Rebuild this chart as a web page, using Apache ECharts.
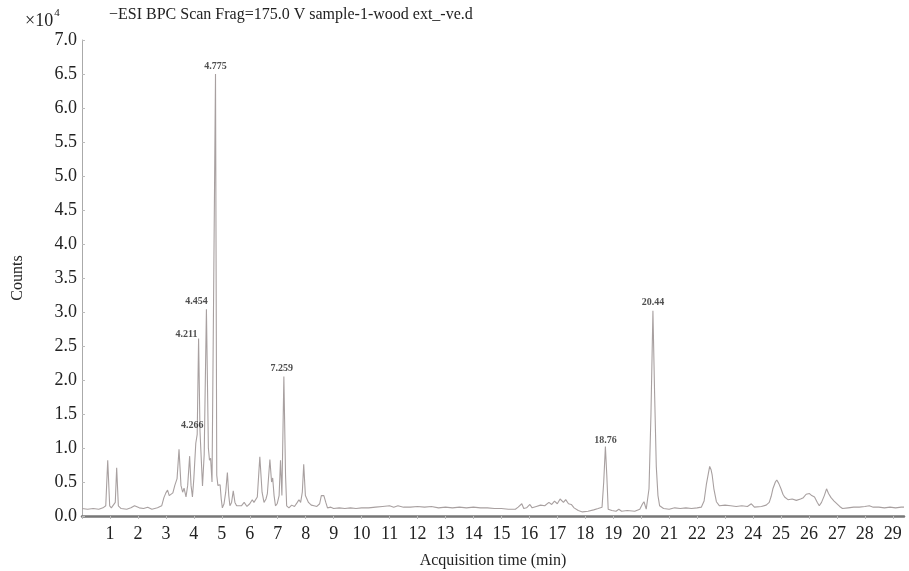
<!DOCTYPE html>
<html>
<head>
<meta charset="utf-8">
<script src="https://cdn.jsdelivr.net/npm/echarts@6/dist/echarts.min.js"></script>
<style>html,body{margin:0;padding:0;background:#fff}#c{width:909px;height:571px}</style>
</head>
<body>
<div id="c"></div>
<script>
// Retention time (min)
const times = [0.0,0.2,0.4,0.6,0.75,0.85,0.92,0.99,1.05,1.12,1.19,1.24,1.30,1.40,1.6,1.75,1.88,1.95,2.05,2.2,2.35,2.5,2.7,2.85,2.93,3.0,3.06,3.12,3.18,3.25,3.32,3.40,3.47,3.54,3.60,3.65,3.72,3.78,3.85,3.90,3.95,4.00,4.07,4.12,4.17,4.22,4.27,4.31,4.37,4.45,4.52,4.56,4.60,4.65,4.70,4.775,4.82,4.86,4.90,4.94,4.98,5.02,5.08,5.14,5.2,5.25,5.29,5.35,5.41,5.47,5.53,5.6,5.7,5.8,5.9,6.0,6.09,6.15,6.22,6.27,6.36,6.44,6.51,6.58,6.63,6.72,6.78,6.82,6.87,6.92,6.98,7.05,7.1,7.15,7.22,7.28,7.32,7.4,7.5,7.6,7.7,7.76,7.82,7.88,7.93,7.99,8.05,8.1,8.2,8.3,8.4,8.5,8.56,8.6,8.65,8.72,8.78,8.9,9.0,9.2,9.4,9.6,9.8,10.0,10.25,10.5,10.75,11.0,11.15,11.3,11.5,11.75,12.0,12.25,12.5,12.75,13.0,13.25,13.5,13.75,14.0,14.25,14.5,14.75,15.0,15.25,15.5,15.6,15.73,15.8,15.9,16.02,16.1,16.25,16.4,16.55,16.7,16.8,16.9,17.0,17.1,17.15,17.22,17.3,17.4,17.5,17.6,17.75,17.9,18.1,18.3,18.46,18.6,18.66,18.72,18.77,18.82,18.95,19.1,19.2,19.3,19.5,19.77,19.95,20.05,20.1,20.18,20.28,20.35,20.42,20.48,20.54,20.6,20.66,20.8,21.0,21.2,21.4,21.6,21.8,22.0,22.15,22.25,22.33,22.4,22.45,22.5,22.54,22.6,22.69,22.8,23.0,23.2,23.4,23.6,23.8,23.94,24.05,24.3,24.47,24.58,24.65,24.71,24.8,24.85,24.92,25.0,25.07,25.13,25.25,25.4,25.55,25.7,25.8,25.9,26.02,26.1,26.2,26.3,26.37,26.45,26.55,26.63,26.7,26.79,26.9,26.97,27.1,27.2,27.4,27.6,27.8,28.0,28.16,28.3,28.5,28.7,28.9,29.1,29.3,29.4];
// Counts (x10^4)
const counts = [0.11,0.10,0.11,0.10,0.12,0.15,0.82,0.15,0.12,0.13,0.2,0.71,0.15,0.11,0.10,0.12,0.15,0.17,0.12,0.11,0.13,0.10,0.12,0.15,0.27,0.34,0.38,0.30,0.28,0.34,0.45,0.55,0.98,0.45,0.35,0.41,0.28,0.45,0.88,0.45,0.28,0.55,1.07,1.20,2.61,1.25,0.80,0.44,0.9,3.04,1.0,0.82,0.85,0.5,0.48,6.5,0.6,0.45,0.43,0.46,0.25,0.12,0.18,0.35,0.64,0.3,0.15,0.2,0.37,0.2,0.15,0.17,0.15,0.2,0.14,0.18,0.24,0.2,0.22,0.28,0.87,0.35,0.2,0.25,0.33,0.83,0.5,0.56,0.3,0.15,0.18,0.3,0.82,0.3,2.05,0.6,0.15,0.12,0.16,0.14,0.2,0.24,0.2,0.35,0.76,0.3,0.28,0.2,0.16,0.15,0.14,0.18,0.3,0.32,0.3,0.2,0.12,0.13,0.11,0.12,0.11,0.12,0.11,0.12,0.12,0.13,0.14,0.15,0.13,0.15,0.13,0.13,0.14,0.13,0.14,0.12,0.13,0.12,0.13,0.12,0.13,0.12,0.12,0.11,0.11,0.10,0.10,0.13,0.18,0.11,0.12,0.17,0.12,0.14,0.16,0.15,0.2,0.17,0.22,0.18,0.25,0.27,0.2,0.24,0.18,0.17,0.12,0.08,0.06,0.07,0.09,0.11,0.13,0.5,1.02,0.6,0.1,0.08,0.07,0.1,0.07,0.08,0.07,0.1,0.18,0.21,0.1,0.4,1.5,3.02,1.8,0.73,0.3,0.15,0.11,0.1,0.12,0.11,0.12,0.11,0.12,0.13,0.22,0.46,0.62,0.73,0.68,0.6,0.4,0.21,0.15,0.16,0.15,0.14,0.15,0.14,0.18,0.13,0.14,0.16,0.2,0.29,0.4,0.5,0.53,0.48,0.4,0.32,0.28,0.24,0.25,0.23,0.25,0.27,0.32,0.33,0.3,0.28,0.2,0.15,0.2,0.3,0.4,0.33,0.27,0.22,0.2,0.14,0.11,0.12,0.13,0.13,0.14,0.15,0.13,0.13,0.12,0.13,0.12,0.13,0.13];
// Annotated peaks
const peakNames = ['4.775','4.454','4.211','4.266','7.259','18.76','20.44'];
const peakTimes = [4.775,4.45,4.17,4.266,7.22,18.72,20.42];
const peakValues = [6.5,3.04,2.61,1.22,2.05,1.02,3.02];

const yTicks = ['0.0','0.5','1.0','1.5','2.0','2.5','3.0','3.5','4.0','4.5','5.0','5.5','6.0','6.5','7.0'];

const labelOffsets = [[0,0],[-10,0],[-12,4],[-9,0],[-2,0],[0,2],[0,0]];

const serif = '"Liberation Serif","DejaVu Serif",serif';
const chart = echarts.init(document.getElementById('c'));
const lineData = times.map((t,i)=>[t,counts[i]]);
const peakData = peakTimes.map((t,i)=>({
  value:[t,peakValues[i]],
  label:{show:true,position:'top',distance:3,offset:labelOffsets[i],formatter:peakNames[i]}
}));

chart.setOption({
  animation:false,
  backgroundColor:'#fff',
  title:[
    {text:'{a|×10}{s|4}',left:20,top:3,textStyle:{fontWeight:'normal',rich:{a:{fontFamily:serif,fontSize:18,fontWeight:'normal',color:'#222'},s:{fontFamily:serif,fontSize:11,fontWeight:'normal',color:'#222',verticalAlign:'top',padding:[0,0,16,1]}}}},
    {text:'−ESI BPC Scan Frag=175.0 V sample-1-wood ext_-ve.d',left:104,top:2,textStyle:{fontFamily:serif,fontSize:16,fontWeight:'normal',color:'#222'}}
  ],
  grid:{left:82,right:5,top:40,bottom:55,outerBoundsMode:'none',containLabel:false},
  xAxis:{
    type:'value',min:0,max:29.4,interval:1,
    name:'Acquisition time (min)',nameLocation:'middle',nameGap:37,
    nameTextStyle:{fontFamily:serif,fontSize:16,color:'#222'},
    axisLine:{lineStyle:{color:'#777',width:2.5}},
    axisTick:{show:true,length:3,lineStyle:{color:'#bbb'}},
    splitLine:{show:false},
    axisLabel:{fontFamily:serif,fontSize:18,color:'#222',margin:9,
      formatter:v=>(v===0?'':String(v)),showMaxLabel:false}
  },
  yAxis:{
    type:'value',min:0,max:7,interval:0.5,
    name:'Counts',nameLocation:'middle',nameGap:56,nameRotate:90,
    nameTextStyle:{fontFamily:serif,fontSize:16,color:'#222'},
    axisLine:{show:true,lineStyle:{color:'#aaa',width:1}},
    axisTick:{show:true,inside:true,length:3,lineStyle:{color:'#bbb'}},
    splitLine:{show:false},
    axisLabel:{fontFamily:serif,fontSize:18,color:'#222',margin:5,
      formatter:v=>yTicks[Math.round(v*2)]}
  },
  series:[
    {type:'line',data:lineData,showSymbol:false,symbol:'none',
     lineStyle:{color:'#a8a0a0',width:1.1},z:2},
    {type:'scatter',data:peakData,symbolSize:0,z:3,
     label:{fontFamily:serif,fontSize:10,fontWeight:'bold',color:'#222'}}
  ]
});
</script>
</body>
</html>
